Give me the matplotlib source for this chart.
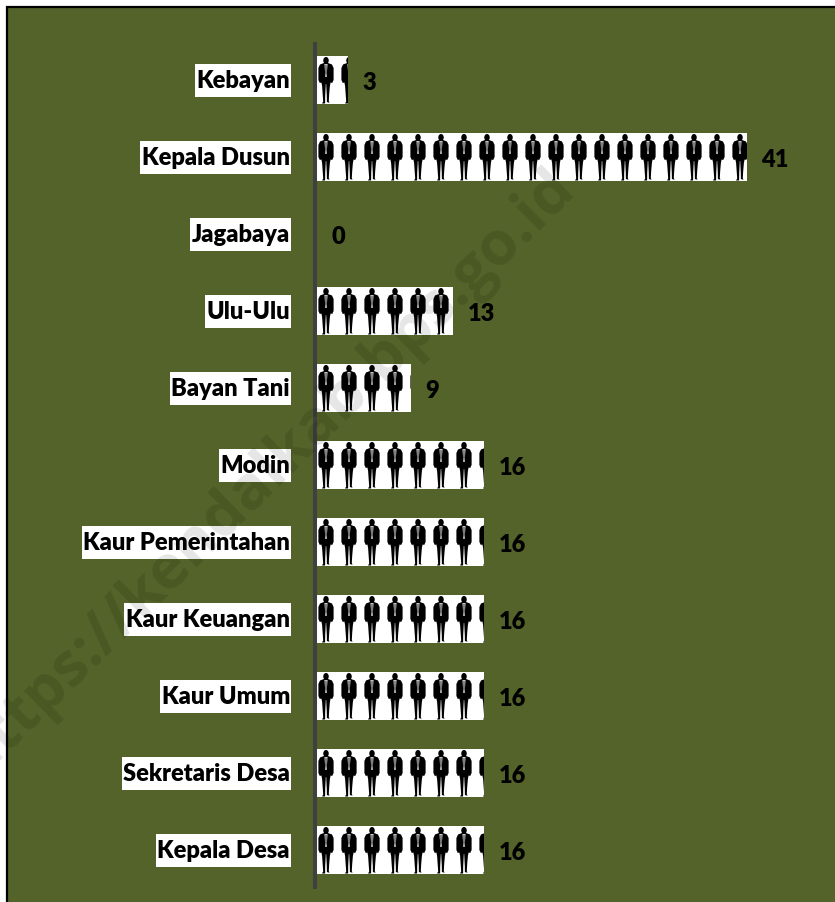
import matplotlib
matplotlib.use("Agg")
import matplotlib.pyplot as plt
from matplotlib.patches import Polygon, Ellipse, Rectangle
from matplotlib.path import Path
from matplotlib.transforms import Affine2D

# data, top to bottom
categories = ["Kebayan", "Kepala Dusun", "Jagabaya", "Ulu-Ulu", "Bayan Tani", "Modin",
              "Kaur Pemerintahan", "Kaur Keuangan", "Kaur Umum", "Sekretaris Desa", "Kepala Desa"]
values = [3, 41, 0, 13, 9, 16, 16, 16, 16, 16, 16]

W, H = 835, 903
GREEN = "#536329"
PX_X = 10.49   # pixels per unit on the x axis
PX_Y = 77.0    # pixels per category
BAR_PX = 48
STEP_PX = 23   # distance between two men

# man silhouette, pixels, centre of the body at x=0, top of bar at y=0
body = [(-2, 7), (-6, 8.5), (-7.6, 12), (-7.6, 24), (-6.2, 27), (-4.6, 26.5), (-3.9, 30), (-3.2, 40),
        (-2.8, 45.5), (-4, 47.5), (-0.9, 47.5), (-0.8, 40), (-0.2, 28), (0.2, 28), (0.8, 40),
        (0.9, 46), (3.5, 46.8), (2.8, 45), (3.2, 38), (3.9, 30), (4.6, 26.5), (6.2, 27), (7.6, 24),
        (7.6, 12), (6, 8.5), (2, 7)]
shirt = [(-1.5, 8), (1.5, 8), (0.6, 21), (-0.6, 21)]
tie = [(-0.45, 8.5), (0.45, 8.5), (0.55, 17), (0, 20), (-0.55, 17)]
cuff_l = [(-4.1, 14), (-3.8, 14), (-3.8, 24), (-4.1, 24)]
cuff_r = [(3.8, 14), (4.1, 14), (4.1, 24), (3.8, 24)]


def label_box(x0, y0, width, height, mutation_size=None):
    # white box behind the labels, taller than the text
    cy = y0 + height / 2
    return Path.unit_rectangle().transformed(
        Affine2D().scale(width + 3, 33).translate(x0 - 1.5, cy - 16.5))


fig = plt.figure(figsize=(W / 100, H / 100), dpi=100, facecolor="white")
fig.add_artist(Rectangle((7 / W, -0.01), 1.01 - 7 / W, (H - 8) / H + 0.01, transform=fig.transFigure,
                         facecolor=GREEN, edgecolor="black", linewidth=1.6, zorder=-1))

ax = fig.add_axes([314.5 / W, (H - 889.5) / H, 512 / W, 847 / H])
ax.patch.set_visible(False)

y = list(range(len(categories)))
bars = ax.barh(y, values, height=BAR_PX / PX_Y, color="white", linewidth=0, zorder=2)

for i, (bar, val) in enumerate(zip(bars, values)):
    n = int(val * PX_X // STEP_PX) + 1 if val > 0 else 0
    for k in range(n):
        tr = Affine2D().translate(9.5 + k * STEP_PX, -BAR_PX / 2).scale(1 / PX_X, 1 / PX_Y).translate(0, i) + ax.transData
        parts = [Polygon(body, color="black", lw=0), Ellipse((0, 4.5), 5.5, 7, color="black", lw=0),
                 Polygon(shirt, color="white", lw=0), Polygon(tie, color="black", lw=0),
                 Polygon(cuff_l, color="white", lw=0), Polygon(cuff_r, color="white", lw=0)]
        for p in parts:
            p.set_transform(tr)
            p.set_zorder(3)
            ax.add_artist(p)
            p.set_clip_path(bar)

ax.set_xlim(-2 / PX_X, 510 / PX_X)
ax.set_ylim(len(categories) - 0.5, -0.5)
ax.set_xticks([])
ax.set_yticks(y)
ax.set_yticklabels(categories, fontfamily="Lato", fontweight="heavy", fontsize=17, color="black")
ax.tick_params(axis="y", length=0, pad=17.7)
for lab in ax.get_yticklabels():
    lab.set_bbox(dict(boxstyle=label_box, facecolor="white", edgecolor="none"))
    lab.set_transform(lab.get_transform() + Affine2D().translate(0, 2))

for s in ["top", "right", "bottom"]:
    ax.spines[s].set_visible(False)
ax.spines["left"].set_color("#404040")
ax.spines["left"].set_linewidth(2.9)
ax.spines["left"].set_capstyle("butt")

val_labels = ax.bar_label(bars, labels=[str(v) for v in values], padding=10.5, fontfamily="Lato",
                          fontweight="heavy", fontsize=17, color="black")
for t in val_labels:
    t.xyann = (t.xyann[0], -1.5)

# watermark over everything
fig.text(266 / W, (H - 474) / H, "https://kendalkab.bps.go.id", rotation=44.5, rotation_mode="anchor",
         ha="center", va="center", fontsize=44, fontweight="bold", color="black", alpha=0.1,
         fontfamily="Open Sans", zorder=10)

fig.savefig("out.png", dpi=100, facecolor=fig.get_facecolor())
